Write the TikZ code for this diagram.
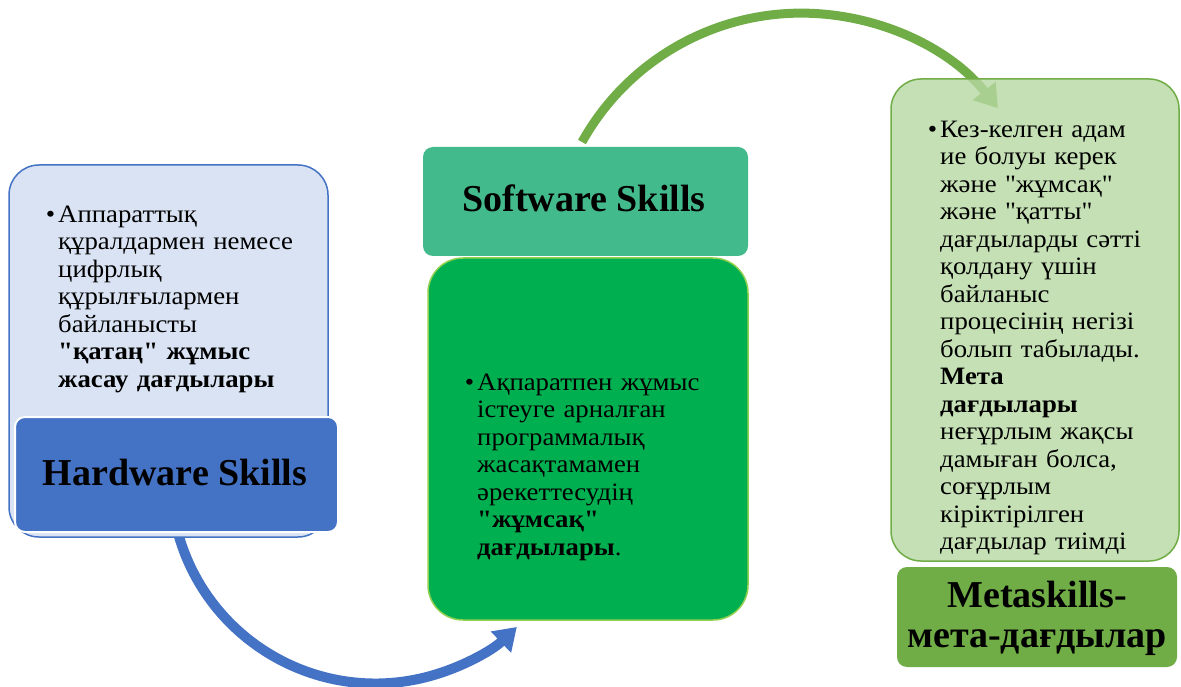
\documentclass[tikz,border=0pt]{standalone}
\usepackage{fontspec}
\setmainfont{Liberation Serif}[Ligatures=TeXOff]
\newfontfamily\bodyfam{Liberation Serif}[Ligatures=TeXOff, FakeStretch=1.07]
\usetikzlibrary{arrows.meta}
\definecolor{hwbg}{HTML}{DAE3F3}
\definecolor{hwblue}{HTML}{4472C4}
\definecolor{swteal}{HTML}{43BA8B}
\definecolor{swgreen}{HTML}{00B050}
\definecolor{swedge}{HTML}{92D050}
\definecolor{mtbg}{HTML}{B6D8A1}
\definecolor{mtgreen}{HTML}{70AD47}
\newcommand\bodyfnt{\bodyfam\fontsize{25}{27.5}\selectfont}
\newcommand\titlefnt{\fontsize{38}{40}\selectfont\bfseries}
\newcommand\bul{\llap{•\hspace{3pt}}}
\tikzset{
  textbox/.style={rounded corners=30pt, line width=1.5pt},
  labelbox/.style={rounded corners=10pt},
  bodytext/.style={anchor=north west, inner sep=0pt, align=left, font=\bodyfnt},
  titletext/.style={inner sep=0pt, align=center, font=\titlefnt},
  cyclearrow/.style={line width=10pt, -{Triangle[width=28pt,length=22pt]}},
}
\begin{document}
\begin{tikzpicture}[x=1pt,y=-1pt]
\useasboundingbox (0,0) rectangle (1181,687);
% arrows (drawn first, boxes on top)
\coordinate (bstart) at (178,533);
\coordinate (gstart) at (582,142);
\draw[cyclearrow, hwblue] (bstart) arc[start angle=164.6, end angle=46.4, radius=204.9];
\draw[cyclearrow, mtgreen, line width=9pt] (gstart) arc[start angle=-150.9, end angle=-38.4, radius=250.9];
% Hardware
\path[textbox, draw=hwblue, fill=hwbg] (9,165) rectangle (328,537);
\node[bodytext, text width=265pt] (hwtext) at (58,202.7) {\strut\bul Аппараттық\\ құралдармен немесе\\ цифрлық\\ құрылғылармен\\ байланысты\\ \textbf{"қатаң" жұмыс}\\ \textbf{жасау дағдылары}};
\path[labelbox, draw=white, line width=2pt, fill=hwblue] (15,417) rectangle (338,532);
\node[titletext, anchor=base] (hwlabel) at (175,485) {Hardware Skills};
% Software
\path[labelbox, fill=swteal] (423,147) rectangle (748,256);
\node[titletext, anchor=base] (swlabel) at (584,212) {Software Skills};
\path[textbox, rounded corners=35pt, draw=swedge, fill=swgreen] (428,258) rectangle (748,620);
\node[bodytext, text width=265pt] (swtext) at (477,370.7) {\strut\bul Ақпаратпен жұмыс\\ істеуге арналған\\ программалық\\ жасақтамамен\\ әрекеттесудің\\ \textbf{"жұмсақ"}\\ \textbf{дағдылары}.};
% Metaskills
\path[textbox, draw=mtgreen, fill=mtbg, fill opacity=0.8] (891,79) rectangle (1179,561);
\node[bodytext, text width=235pt] (mttext) at (940,117.7) {\strut\bul Кез-келген адам\\ ие болуы керек\\ және "жұмсақ"\\ және "қатты"\\ дағдыларды сәтті\\ қолдану үшін\\ байланыс\\ процесінің негізі\\ болып табылады.\\ \textbf{Мета}\\ \textbf{дағдылары}\\ неғұрлым жақсы\\ дамыған болса,\\ соғұрлым\\ кіріктірілген\\ дағдылар тиімді};
\path[labelbox, fill=mtgreen] (897,567) rectangle (1177,667);
\node[titletext, anchor=north] (mtlabel) at (1037,579) {\strut Metaskills-\\ \strut мета-дағдылар};
\end{tikzpicture}
\end{document}
